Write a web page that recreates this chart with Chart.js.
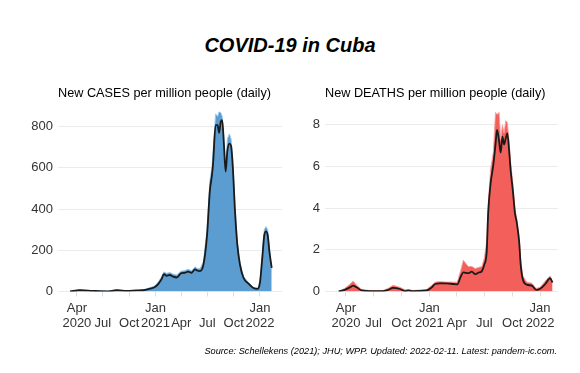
<!DOCTYPE html>
<html>
<head>
<meta charset="utf-8">
<script src="https://cdn.jsdelivr.net/npm/chart.js@4/dist/chart.umd.min.js"></script>
<style>
  body { margin: 0; background: #fff; font-family: "Liberation Sans", Arial, sans-serif; }
  #wrap { position: relative; width: 580px; height: 373px; overflow: hidden; }
  .box { position: absolute; }
  .txt { position: absolute; white-space: nowrap; color: #000; }
</style>
</head>
<body>
<div id="wrap">
  <div class="box" style="left:20px; top:90px; width:270px; height:260px;"><canvas id="casesChart"></canvas></div>
  <div class="box" style="left:290px; top:90px; width:276px; height:260px;"><canvas id="deathsChart"></canvas></div>
  <div class="txt" style="left:0; width:580px; top:35px; line-height:20px; font-size:20px; font-weight:bold; font-style:italic; text-align:center;">COVID-19 in Cuba</div>
  <div class="txt" style="left:58px; top:87px; line-height:13px; font-size:12.7px;">New CASES per million people (daily)</div>
  <div class="txt" style="left:325px; top:87px; line-height:13px; font-size:12.7px;">New DEATHS per million people (daily)</div>
  <div class="txt" style="right:23px; top:346px; line-height:10px; font-size:9.2px; font-style:italic;">Source: Schellekens (2021); JHU; WPP. Updated: 2022-02-11. Latest: pandem-ic.com.</div>
</div>
<script>
// x-axis ticks (quarter starts)
var tickDates = ["2020-04-01", "2020-07-01", "2020-10-01", "2021-01-01", "2021-04-01", "2021-07-01", "2021-10-01", "2022-01-01"];
var tickLabels = [["Apr", "2020"], ["", "Jul"], ["", "Oct"], ["Jan", "2021"], ["", "Apr"], ["", "Jul"], ["", "Oct"], ["Jan", "2022"]];

// new cases per million (daily bars and smoothed line)
var caseDates = ["2020-03-08", "2020-04-11", "2020-05-27", "2020-07-15", "2020-08-19", "2020-09-23", "2020-10-28", "2020-11-18", "2020-12-12", "2020-12-30",
  "2021-01-10", "2021-01-22", "2021-01-30", "2021-02-09", "2021-02-20", "2021-03-04", "2021-03-16", "2021-03-30", "2021-04-14", "2021-04-25",
  "2021-05-07", "2021-05-19", "2021-05-26", "2021-06-05", "2021-06-17", "2021-06-30", "2021-07-10", "2021-07-17", "2021-07-21", "2021-07-30",
  "2021-08-06", "2021-08-11", "2021-08-17", "2021-08-22", "2021-08-28", "2021-09-03", "2021-09-09", "2021-09-16", "2021-09-22", "2021-09-28",
  "2021-10-06", "2021-10-14", "2021-10-23", "2021-11-04", "2021-11-21", "2021-12-09", "2021-12-24", "2022-01-01", "2022-01-09", "2022-01-16",
  "2022-01-22", "2022-01-28", "2022-02-03", "2022-02-11"];
var caseDaily = [0, 8, 4, 2, 8, 4, 6, 8, 18, 28,
  45, 72, 95, 88, 92, 84, 80, 98, 102, 108,
  100, 120, 112, 110, 142, 300, 540, 600, 680, 862,
  850, 872, 868, 850, 740, 600, 740, 765, 740, 640,
  410, 240, 140, 75, 44, 20, 16, 50, 180, 300,
  315, 300, 215, 90];
var caseSmooth = [0, 6, 3, 1, 6, 3, 5, 6, 14, 22,
  36, 60, 84, 76, 80, 72, 68, 87, 91, 96,
  91, 107, 102, 99, 128, 274, 492, 563, 620, 808,
  808, 770, 824, 832, 714, 582, 682, 718, 706, 605,
  383, 225, 131, 68, 39, 17, 13, 44, 162, 273,
  292, 273, 194, 115];
var caseTicks = [0, 200, 400, 600, 800];

// new deaths per million (daily bars and smoothed line)
var deathDates = ["2020-03-08", "2020-03-28", "2020-04-14", "2020-04-25", "2020-05-06", "2020-05-23", "2020-06-19", "2020-08-01", "2020-08-18", "2020-09-03",
  "2020-09-26", "2020-10-13", "2020-10-23", "2020-11-08", "2020-12-23", "2021-01-09", "2021-01-20", "2021-02-05", "2021-02-27", "2021-03-21",
  "2021-04-03", "2021-04-14", "2021-04-23", "2021-05-09", "2021-05-21", "2021-06-01", "2021-06-11", "2021-06-23", "2021-07-01", "2021-07-09",
  "2021-07-14", "2021-07-22", "2021-07-31", "2021-08-07", "2021-08-12", "2021-08-19", "2021-08-24", "2021-08-30", "2021-09-04", "2021-09-10",
  "2021-09-15", "2021-09-21", "2021-09-26", "2021-10-03", "2021-10-10", "2021-10-16", "2021-10-24", "2021-10-29", "2021-11-05", "2021-11-18",
  "2021-12-05", "2021-12-19", "2022-01-01", "2022-01-18", "2022-02-03", "2022-02-11"];
var deathDaily = [0, 0.15, 0.35, 0.5, 0.3, 0.1, 0.05, 0.05, 0.15, 0.3,
  0.2, 0.08, 0.1, 0.05, 0.1, 0.3, 0.45, 0.48, 0.45, 0.45,
  0.45, 1.0, 1.5, 1.2, 1.2, 1.1, 1.15, 1.2, 1.6, 2.4,
  4.2, 5.9, 6.7, 8.6, 8.5, 8.6, 7.3, 8.0, 7.6, 8.2,
  8.1, 7.2, 6.2, 5.2, 4.0, 3.5, 2.6, 1.5, 0.75, 0.45,
  0.4, 0.15, 0.2, 0.5, 0.75, 0.4];
var deathSmooth = [0, 0.08, 0.2, 0.28, 0.2, 0.05, 0.02, 0.02, 0.08, 0.17,
  0.12, 0.02, 0.05, 0.02, 0.05, 0.2, 0.36, 0.39, 0.39, 0.36,
  0.34, 0.7, 0.92, 0.88, 0.95, 0.83, 0.9, 0.98, 1.29, 1.92,
  3.8, 5.2, 6.1, 7.06, 7.76, 7.2, 6.67, 7.44, 7.06, 7.37,
  7.6, 6.74, 5.8, 4.87, 3.78, 3.32, 2.38, 1.29, 0.59, 0.33,
  0.28, 0.08, 0.13, 0.36, 0.64, 0.43];
var deathTicks = [0, 2, 4, 6, 8];

var FONT = "'Liberation Sans', Arial, sans-serif";

function dayNum(s) {
  var p = s.split("-");
  return (Date.UTC(+p[0], +p[1] - 1, +p[2]) - Date.UTC(2020, 2, 1)) / 86400000;
}

function points(dates, values) {
  return dates.map(function (d, i) { return { x: dayNum(d), y: values[i] }; });
}

function makeChart(id, dates, daily, smooth, yTicks, o) {
  var ctx = document.getElementById(id).getContext("2d");
  return new Chart(ctx, {
    type: "line",
    data: {
      datasets: [
        {
          data: points(dates, smooth),
          borderColor: "#1a1a1a",
          borderWidth: 1.8,
          pointRadius: 0,
          cubicInterpolationMode: "monotone",
          fill: false,
          order: 0,
        },
        {
          data: points(dates, daily),
          borderColor: o.light,
          borderWidth: 1,
          backgroundColor: o.fill,
          pointRadius: 0,
          tension: 0,
          fill: "origin",
          order: 1,
        },
      ],
    },
    options: {
      responsive: true,
      maintainAspectRatio: false,
      animation: false,
      layout: { padding: { top: 7, right: 8, left: 0, bottom: 0 } },
      plugins: { legend: { display: false }, tooltip: { enabled: false } },
      scales: {
        x: {
          type: "linear",
          min: o.xmin,
          max: o.xmax,
          afterBuildTicks: function (scale) {
            scale.ticks = tickDates.map(function (d) { return { value: dayNum(d) }; });
          },
          afterFit: function (scale) { scale.height = 58.5; },
          grid: { drawOnChartArea: false, drawTicks: true, tickLength: 5, color: "#dedede" },
          border: { display: false },
          ticks: {
            autoSkip: false,
            maxRotation: 0,
            padding: 4,
            color: "#333",
            font: { family: FONT, size: 13 },
            callback: function (v, i) { return tickLabels[i]; },
          },
        },
        y: {
          min: 0,
          max: o.ymax,
          afterBuildTicks: function (scale) {
            scale.ticks = yTicks.map(function (v) { return { value: v }; });
          },
          afterFit: function (scale) { scale.width = o.yw; },
          grid: { color: "#ebebeb", lineWidth: 1, drawTicks: false },
          border: { display: false },
          ticks: {
            padding: 5,
            color: "#333",
            font: { family: FONT, size: 13 },
          },
        },
      },
    },
  });
}

makeChart("casesChart", caseDates, caseDaily, caseSmooth, caseTicks, {
  fill: "rgb(91,157,208)", light: "rgba(150,198,234,0.9)", xmin: -35, xmax: 748, ymax: 916, yw: 38,
});
makeChart("deathsChart", deathDates, deathDaily, deathSmooth, deathTicks, {
  fill: "rgb(243,96,92)", light: "rgba(248,160,158,0.9)", xmin: -38, xmax: 730, ymax: 9.06, yw: 35,
});
</script>
</body>
</html>
